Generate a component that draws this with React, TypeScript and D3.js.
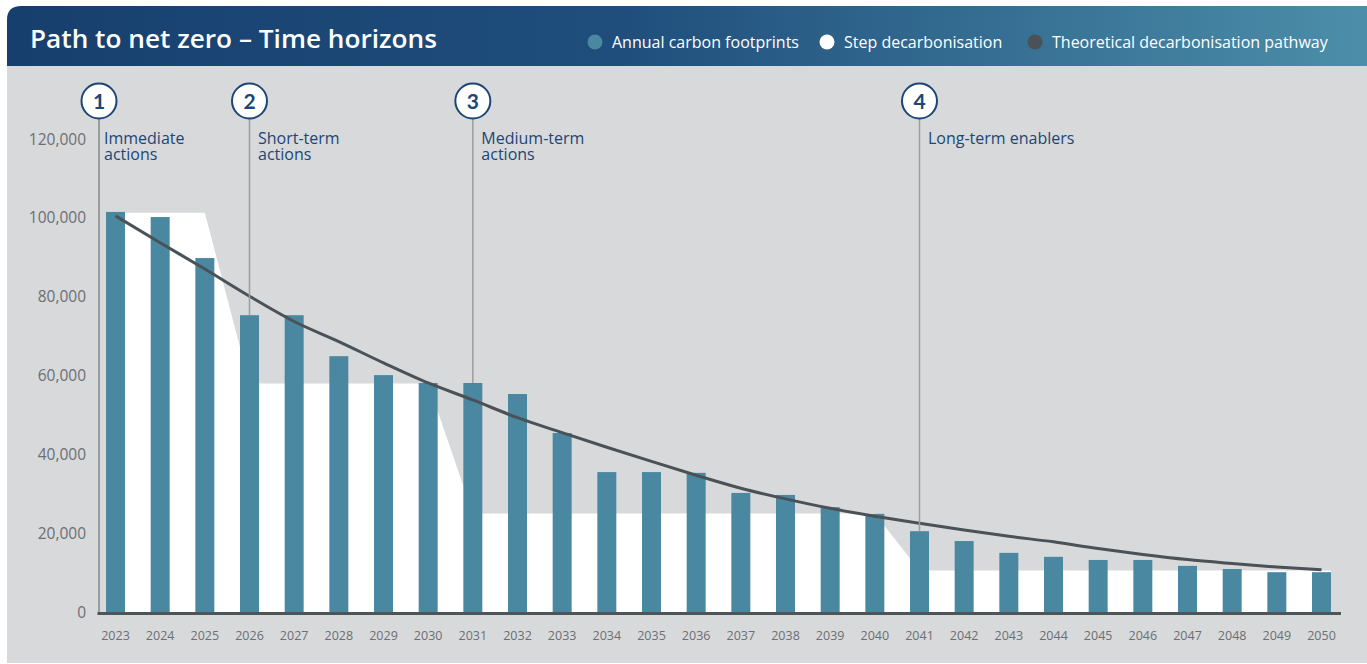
import React from "react";
import * as d3 from "d3";

const years = [
  2023, 2024, 2025, 2026, 2027, 2028, 2029, 2030, 2031, 2032, 2033, 2034, 2035, 2036,
  2037, 2038, 2039, 2040, 2041, 2042, 2043, 2044, 2045, 2046, 2047, 2048, 2049, 2050,
];

const annualFootprints = [
  101500, 100200, 89800, 75300, 75300, 64900, 60100, 58100, 58100, 55300, 45400, 35500,
  35500, 35300, 30200, 29700, 26600, 24900, 20500, 18000, 15000, 14000, 13200, 13200,
  11700, 10900, 10100, 10100,
];

const stepDecarbonisation = [
  101300, 101300, 101300, 58000, 58000, 58000, 58000, 58000, 25000, 25000, 25000, 25000,
  25000, 25000, 25000, 25000, 25000, 25000, 10500, 10500, 10500, 10500, 10500, 10500,
  10500, 10500, 10500, 10500,
];

const theoreticalPathway = [
  100500, 93700, 87000, 80100, 73700, 68600, 63200, 58100, 53800, 49300, 45500, 41800,
  38200, 34700, 31400, 28700, 26300, 24300, 22500, 20800, 19200, 17800, 16100, 14600,
  13300, 12300, 11400, 10700,
];

const yTicks = [0, 20000, 40000, 60000, 80000, 100000, 120000];

const annotationNumbers = ["1", "2", "3", "4"];
const annotationYears = [2023, 2026, 2031, 2041];
const annotationLabels = [
  ["Immediate", "actions"],
  ["Short-term", "actions"],
  ["Medium-term", "actions"],
  ["Long-term enablers"],
];

const legendLabels = [
  "Annual carbon footprints",
  "Step decarbonisation",
  "Theoretical decarbonisation pathway",
];

const W = 1367;
const H = 664;
const NAVY = "#1c4675";
const BAR = "#4a88a2";
const LINE = "#4a5257";
const GREY_TEXT = "#6b6f73";
const FONT = "'Open Sans', 'DejaVu Sans', sans-serif";

export default function App() {
  const axisX = 99;
  const x = d3
    .scaleBand<number>()
    .domain(years)
    .range([axisX, 1338])
    .paddingInner(0.575)
    .paddingOuter(0.157);
  const bw = x.bandwidth();
  const cx = (yr: number) => (x(yr) as number) + bw / 2;

  const y = d3.scaleLinear().domain([0, 120000]).range([612, 139]);

  const stepPts: [number, number][] = [];
  stepPts.push([x(years[0]) as number, stepDecarbonisation[0]]);
  years.forEach((yr, i) => stepPts.push([cx(yr), stepDecarbonisation[i]]));
  stepPts.push([
    (x(years[years.length - 1]) as number) + bw,
    stepDecarbonisation[stepDecarbonisation.length - 1],
  ]);
  const area = d3
    .area<[number, number]>()
    .x((d) => d[0])
    .y0(y(0))
    .y1((d) => y(d[1]))
    .curve(d3.curveLinear);

  const line = d3
    .line<number>()
    .x((_, i) => cx(years[i]))
    .y((d) => y(d))
    .curve(d3.curveMonotoneX);

  const legendX = [595, 827, 1035];
  const legendFill = [BAR, "#ffffff", LINE];

  const fmt = d3.format(",");

  return (
    <svg
      width={W}
      height={H}
      style={{ position: "absolute", left: 0, top: 0, display: "block" }}
      fontFamily={FONT}
    >
      <defs>
        <linearGradient id="hdr" x1="0" x2="1" y1="0" y2="0">
          <stop offset="0%" stopColor="#173f6e" />
          <stop offset="45%" stopColor="#1f4e7c" />
          <stop offset="100%" stopColor="#4c8ea9" />
        </linearGradient>
      </defs>
      <rect x={0} y={0} width={W} height={H} fill="#ffffff" />
      <rect x={7} y={60} width={W - 7} height={603} fill="#d8d9db" />
      <path d={`M7,66 L7,20 Q7,6 21,6 L${W},6 L${W},66 Z`} fill="url(#hdr)" />
      <text
        x={30}
        y={48}
        fill="#ffffff"
        fontSize={25}
        fontWeight={600}
        textLength={407}
        lengthAdjust="spacingAndGlyphs"
        fontFamily="'Open Sans', Lato, sans-serif"
      >
        Path to net zero – Time horizons
      </text>

      {legendLabels.map((lab, i) => (
        <g key={lab}>
          <circle cx={legendX[i]} cy={42} r={7.5} fill={legendFill[i]} />
          <text x={legendX[i] + 17} y={47.5} fill="#ffffff" fontSize={16}>
            {lab}
          </text>
        </g>
      ))}

      <path d={area(stepPts) || ""} fill="#ffffff" />

      {years.map((yr, i) => (
        <rect
          key={yr}
          x={x(yr)}
          y={y(annualFootprints[i])}
          width={bw}
          height={y(0) - y(annualFootprints[i])}
          fill={BAR}
        />
      ))}

      <path
        d={line(theoreticalPathway) || ""}
        fill="none"
        stroke={LINE}
        strokeWidth={3}
      />

      {yTicks.map((t) => (
        <text
          key={t}
          x={86}
          y={y(t) + 5.5}
          textAnchor="end"
          fill={GREY_TEXT}
          fontSize={15.5}
        >
          {fmt(t)}
        </text>
      ))}

      {years.map((yr) => (
        <text
          key={yr}
          x={cx(yr)}
          y={640}
          textAnchor="middle"
          fill={GREY_TEXT}
          fontSize={12.5}
        >
          {yr}
        </text>
      ))}

      {annotationYears.map((yr, i) => {
        const ax = i === 0 ? axisX : cx(yr);
        const idx = years.indexOf(yr);
        const bottom = i === 0 ? y(0) : y(annualFootprints[idx]);
        const dx = i === 0 ? 5 : 8.5;
        return (
          <g key={yr}>
            <line
              x1={ax}
              x2={ax}
              y1={119}
              y2={bottom}
              stroke={i === 0 ? "#85898c" : "#9b9ea1"}
              strokeWidth={1.5}
            />
            <circle cx={ax} cy={101} r={17.5} fill="#ffffff" stroke={NAVY} strokeWidth={2} />
            <text
              x={ax}
              y={108.5}
              textAnchor="middle"
              fill={NAVY}
              fontSize={21}
              fontWeight={700}
              fontFamily="Lato, 'Open Sans', sans-serif"
            >
              {annotationNumbers[i]}
            </text>
            <text x={ax + dx} y={144} fill={NAVY} fontSize={16}>
              {annotationLabels[i].map((l, j) => (
                <tspan key={j} x={ax + dx} dy={j === 0 ? 0 : 16}>
                  {l}
                </tspan>
              ))}
            </text>
          </g>
        );
      })}

      <line x1={97.5} x2={1341} y1={613.5} y2={613.5} stroke="#4d5558" strokeWidth={3} />
    </svg>
  );
}
